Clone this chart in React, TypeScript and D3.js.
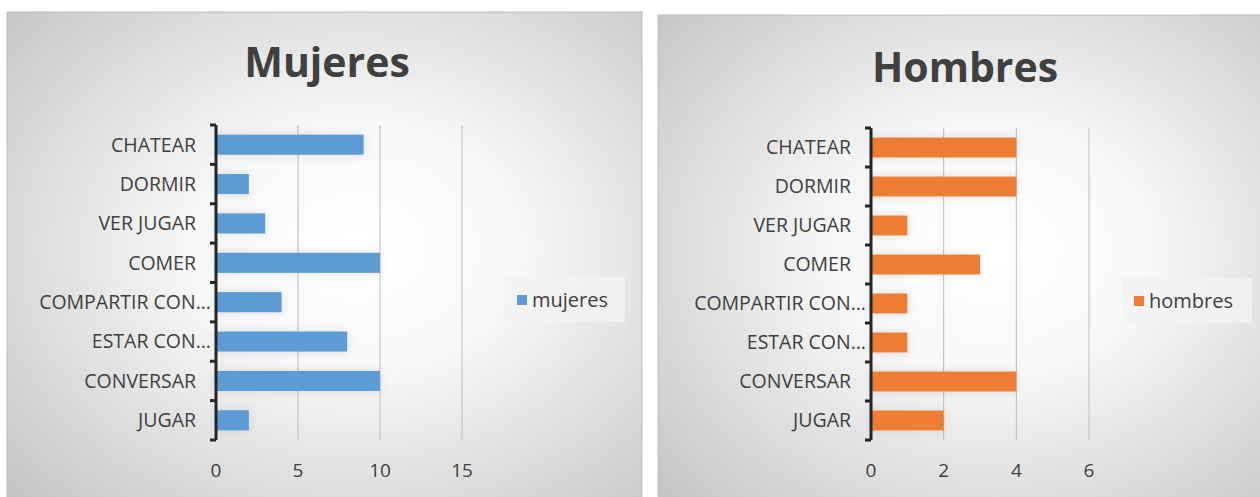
import React from "react";
import * as d3 from "d3";

const categories = ["CHATEAR", "DORMIR", "VER JUGAR", "COMER", "COMPARTIR CON...", "ESTAR CON...", "CONVERSAR", "JUGAR"];
const mujeresValues = [9, 2, 3, 10, 4, 8, 10, 2];
const hombresValues = [4, 4, 1, 3, 1, 1, 4, 2];
const mujeresTicks = [0, 5, 10, 15];
const hombresTicks = [0, 2, 4, 6];

const FONT = "'Open Sans', 'Noto Sans', sans-serif";

type PanelProps = {
  id: string;
  x: number; y: number; w: number; h: number;
  title: string; titleX: number; titleY: number;
  values: number[]; ticks: number[]; color: string; legend: string;
  axisX: number; xMax: number; xMaxPx: number;
  plotTop: number; plotBottom: number;
  legendX: number; legendY: number; legendW: number;
};

function Panel(p: PanelProps) {
  const xs = d3.scaleLinear().domain([0, p.xMax]).range([p.axisX, p.xMaxPx]);
  const ys = d3.scaleBand<string>().domain(categories).range([p.plotTop, p.plotBottom]).paddingInner(0.49).paddingOuter(0.245);
  const bounds = d3.range(categories.length + 1).map((i) => p.plotTop + (i * (p.plotBottom - p.plotTop)) / categories.length);
  return (
    <g>
      <defs>
        <radialGradient id={p.id + "bg"} cx="0.55" cy="0.48" r="0.75">
          <stop offset="0" stopColor="#ffffff" />
          <stop offset="0.35" stopColor="#f7f7f7" />
          <stop offset="1" stopColor="#c4c4c4" />
        </radialGradient>
        <filter id={p.id + "sh"} x="-20%" y="-60%" width="140%" height="220%">
          <feGaussianBlur in="SourceAlpha" stdDeviation="5" />
          <feComponentTransfer><feFuncA type="linear" slope="0.12" /></feComponentTransfer>
          <feMerge><feMergeNode /><feMergeNode in="SourceGraphic" /></feMerge>
        </filter>
      </defs>
      <rect x={p.x} y={p.y} width={p.w} height={p.h} fill={`url(#${p.id}bg)`} stroke="#bdbdbd" strokeWidth={1} />
      <text x={p.titleX} y={p.titleY} textAnchor="middle" fontFamily={FONT} fontWeight="bold" fontSize={41} fill="#404040">{p.title}</text>
      {p.ticks.filter((t) => t > 0).map((t) => (
        <line key={t} x1={xs(t)} x2={xs(t)} y1={p.plotTop} y2={p.plotBottom} stroke="#bcbcbc" strokeWidth={1} />
      ))}
      {categories.map((c, i) => (
        <rect key={c} x={xs(0)} y={ys(c)!} width={xs(p.values[i]) - xs(0)} height={ys.bandwidth()} fill={p.color} filter={`url(#${p.id}sh)`} />
      ))}
      {categories.map((c) => (
        <text key={c} x={p.axisX - (c.endsWith("...") ? 5 : 20)} y={ys(c)! + ys.bandwidth() / 2} dy="0.35em" textAnchor="end" fontFamily={FONT} fontSize={19.5} fill="#404040">{c}</text>
      ))}
      <line x1={p.axisX} x2={p.axisX} y1={p.plotTop} y2={p.plotBottom} stroke="#262626" strokeWidth={3} />
      {bounds.map((b, i) => (
        <line key={i} x1={p.axisX - 6} x2={p.axisX} y1={b} y2={b} stroke="#262626" strokeWidth={3} />
      ))}
      {p.ticks.map((t) => (
        <text key={t} x={xs(t)} y={p.plotBottom + 37} textAnchor="middle" fontFamily={FONT} fontSize={19} fill="#404040">{t}</text>
      ))}
      <rect x={p.legendX} y={p.legendY} width={p.legendW} height={45} fill="#f2f2f2" opacity={0.8} />
      <rect x={p.legendX + 12} y={p.legendY + 18} width={10} height={10} fill={p.color} />
      <text x={p.legendX + 27} y={p.legendY + 23} dy="0.35em" fontFamily={FONT} fontSize={20} fill="#404040">{p.legend}</text>
    </g>
  );
}

export default function App() {
  return (
    <svg width={1260} height={497} style={{ position: "absolute", left: 0, top: 0, background: "#fff" }}>
      <Panel id="m" x={7} y={12} w={635} h={490} title="Mujeres" titleX={327} titleY={77}
        values={mujeresValues} ticks={mujeresTicks} color="#5b9bd5" legend="mujeres"
        axisX={216} xMax={15} xMaxPx={462} plotTop={125} plotBottom={440}
        legendX={505} legendY={277} legendW={120} />
      <Panel id="h" x={658} y={15} w={610} h={490} title="Hombres" titleX={965} titleY={82}
        values={hombresValues} ticks={hombresTicks} color="#ed7d31" legend="hombres"
        axisX={871} xMax={6} xMaxPx={1089} plotTop={128} plotBottom={440}
        legendX={1122} legendY={278} legendW={130} />
    </svg>
  );
}
